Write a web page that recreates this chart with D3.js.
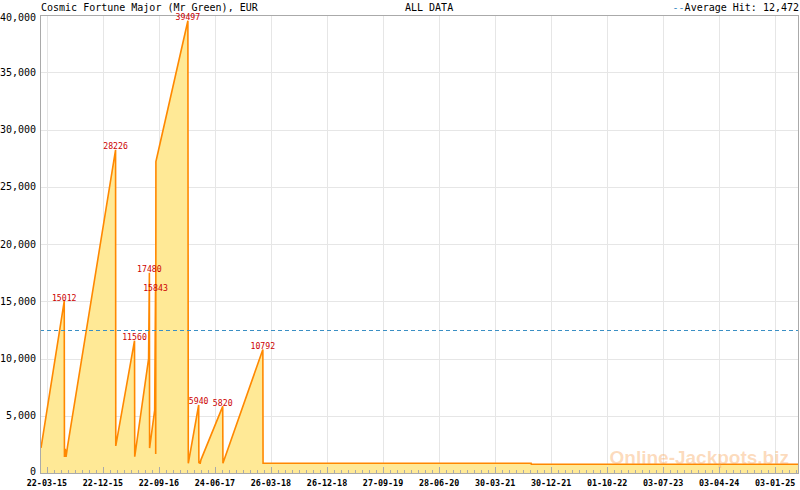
<!DOCTYPE html>
<html>
<head>
<meta charset="utf-8">
<script src="https://cdn.jsdelivr.net/npm/d3@7/dist/d3.min.js"></script>
<style>
  html, body { margin: 0; padding: 0; background: #fff; }
  svg { display: block; }
  text { font-family: "DejaVu Sans Mono", "Liberation Mono", monospace; }
</style>
</head>
<body>
<svg id="chart" width="800" height="490"></svg>
<script>
// ---------- DATA ----------
const title = "Cosmic Fortune Major (Mr Green), EUR";
const subtitle = "ALL DATA";
const averageHit = 12472;

const dates = [
  "2015-02-21","2015-06-15","2015-06-16","2015-06-20","2015-06-24","2015-07-01",
  "2016-02-22","2016-02-23","2016-05-25","2016-05-26","2016-08-02","2016-08-06",
  "2016-08-07","2016-09-01","2016-09-05","2016-09-06","2016-09-07","2016-09-20",
  "2017-02-11","2017-02-13","2017-04-05","2017-04-06","2017-04-09","2017-04-12",
  "2017-04-16","2017-08-01","2017-08-02","2018-02-14","2018-02-15","2021-09-23",
  "2021-09-24","2025-04-30"
];
const values = [
  2200, 15012, 1400, 2100, 1400, 2300,
  28226, 2360, 11560, 1420, 9960, 17480,
  2180, 5500, 15843, 1660, 27190, 28210,
  39497, 850, 5940, 850, 1050, 800,
  1150, 5820, 850, 10792, 850, 850,
  760, 760
];

const peakDates  = ["2015-06-15","2016-02-22","2016-05-25","2016-08-06","2016-09-05","2017-02-11","2017-04-05","2017-08-01","2018-02-14"];
const peakValues = [15012, 28226, 11560, 17480, 15843, 39497, 5940, 5820, 10792];

const xTickLabels = ["22-03-15","22-12-15","22-09-16","24-06-17","26-03-18","26-12-18","27-09-19","28-06-20","30-03-21","30-12-21","01-10-22","03-07-23","03-04-24","03-01-25"];
const yTicks = [0, 5000, 10000, 15000, 20000, 25000, 30000, 35000, 40000];
const xDomain = ["2015-02-16", "2025-04-30"];
const yDomain = [0, 40000];

// ---------- SETUP ----------
const parseISO = d3.timeParse("%Y-%m-%d");
const parseTick = d3.timeParse("%d-%m-%y");
const svg = d3.select("#chart");
const L = 40, R = 799, T = 15, B = 473;

const x = d3.scaleTime().domain(xDomain.map(parseISO)).range([L, R]);
const y = d3.scaleLinear().domain(yDomain).range([B, T]);

const data = dates.map((d, i) => ({ date: parseISO(d), value: values[i] }));
const tickDates = xTickLabels.map(parseTick);

// grid
const grid = svg.append("g");
grid.selectAll("line.h").data(yTicks).enter().append("line")
  .attr("x1", L).attr("x2", R)
  .attr("y1", d => Math.round(y(d)) + 0.5).attr("y2", d => Math.round(y(d)) + 0.5)
  .attr("stroke", "#e6e6e6").attr("stroke-width", 1);
grid.selectAll("line.v").data(tickDates).enter().append("line")
  .attr("x1", d => Math.round(x(d)) + 0.5).attr("x2", d => Math.round(x(d)) + 0.5)
  .attr("y1", T).attr("y2", B)
  .attr("stroke", "#e6e6e6").attr("stroke-width", 1);

// area + line
const area = d3.area().x(d => x(d.date)).y0(y(0)).y1(d => y(d.value));
const line = d3.line().x(d => x(d.date)).y(d => y(d.value));
svg.append("path").datum(data).attr("d", area).attr("fill", "#ffe996");
svg.append("path").datum(data).attr("d", line)
  .attr("fill", "none").attr("stroke", "#ff8800").attr("stroke-width", 1.6)
  .attr("stroke-linejoin", "miter");

// watermark
svg.append("text")
  .attr("x", 789).attr("y", 463.5).attr("text-anchor", "end")
  .style("font-family", "'Liberation Sans', Arial, sans-serif")
  .style("font-weight", "bold").style("font-size", "19px")
  .attr("fill", "#f7a050").attr("fill-opacity", 0.38)
  .text("Online-Jackpots.biz");

// average line
svg.append("line")
  .attr("x1", L).attr("x2", R)
  .attr("y1", Math.round(y(averageHit)) + 0.5).attr("y2", Math.round(y(averageHit)) + 0.5)
  .attr("stroke", "#3a8fc4").attr("stroke-width", 1).attr("stroke-dasharray", "4,3");

// frame
svg.append("rect").attr("x", L + 0.5).attr("y", T + 0.5)
  .attr("width", R - L - 1).attr("height", B - T)
  .attr("fill", "none").attr("stroke", "#aaaaaa").attr("stroke-width", 1);

// x axis ticks (inward)
const minorStep = 275 / 8;
const minor = [];
for (let k = -2; k < 8 * 15; k++) {
  const d = d3.timeDay.offset(tickDates[0], Math.round(k * minorStep));
  const px = x(d);
  if (px > L + 1 && px < R - 1) minor.push(d);
}
const ticks = svg.append("g");
ticks.selectAll("line.mi").data(minor).enter().append("line")
  .attr("x1", d => Math.round(x(d)) + 0.5).attr("x2", d => Math.round(x(d)) + 0.5)
  .attr("y1", B).attr("y2", B - 3).attr("stroke", "#aaaaaa");
ticks.selectAll("line.ma").data(tickDates).enter().append("line")
  .attr("x1", d => Math.round(x(d)) + 0.5).attr("x2", d => Math.round(x(d)) + 0.5)
  .attr("y1", B).attr("y2", B - 6).attr("stroke", "#aaaaaa");

// x labels
svg.selectAll("text.xl").data(tickDates).enter().append("text")
  .attr("x", d => x(d)).attr("y", 485.5).attr("text-anchor", "middle")
  .style("font-size", "8.4px").style("font-weight", "bold").attr("fill", "#000")
  .text((d, i) => xTickLabels[i]);

// y labels
svg.selectAll("text.yl").data(yTicks).enter().append("text")
  .attr("x", 36).attr("y", d => Math.min(Math.max(y(d) + 3.6, 20.5), 475))
  .attr("text-anchor", "end")
  .style("font-size", "10px").attr("fill", "#000")
  .text(d => d3.format(",")(d));

// peak labels
svg.selectAll("text.pk").data(peakDates).enter().append("text")
  .attr("x", d => x(parseISO(d))).attr("y", (d, i) => y(peakValues[i]) - 0.5)
  .attr("text-anchor", "middle")
  .style("font-size", "8.2px").attr("fill", "#cc0000")
  .text((d, i) => peakValues[i]);

// header
svg.append("text").attr("x", 41).attr("y", 10.5).style("font-size", "10px").attr("fill", "#000").text(title);
svg.append("text").attr("x", 405).attr("y", 10.5).style("font-size", "10px").attr("fill", "#000").text(subtitle);
const leg = svg.append("text").attr("x", 799).attr("y", 10.5).attr("text-anchor", "end").style("font-size", "10px");
leg.append("tspan").attr("fill", "#3a8fc4").text("--");
leg.append("tspan").attr("fill", "#000").text("Average Hit: " + d3.format(",")(averageHit));
</script>
</body>
</html>
